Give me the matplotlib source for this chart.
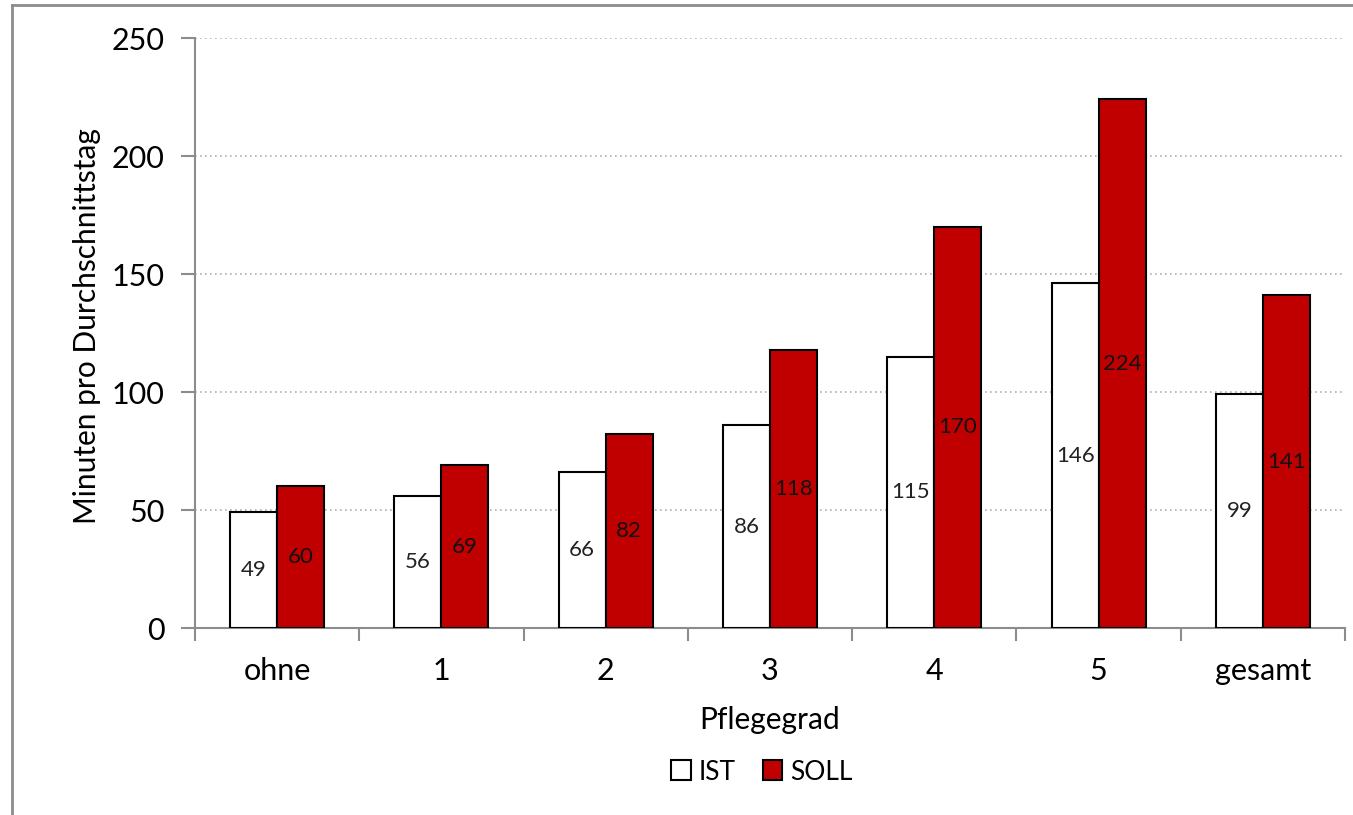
import matplotlib
matplotlib.use("Agg")
import matplotlib.pyplot as plt
import numpy as np
from matplotlib.lines import Line2D
from matplotlib.patches import Patch

categories = ["ohne", "1", "2", "3", "4", "5", "gesamt"]
ist_values = [49, 56, 66, 86, 115, 146, 99]
soll_values = [60, 69, 82, 118, 170, 224, 141]
y_ticks = [0, 50, 100, 150, 200, 250]

plt.rcParams['font.family'] = ['Lato', 'DejaVu Sans']

fig = plt.figure(figsize=(13.53, 8.15), dpi=100)
ax = fig.add_axes([195/1353, 1-628/815, 1150/1353, 590/815])

x = np.arange(len(categories))
w = 0.286
gray = "#8c8c8c"
red = "#c00000"

ax.bar(x - w/2, ist_values, w, color="white", edgecolor="black", linewidth=1.5, zorder=3, label="IST")
ax.bar(x + w/2, soll_values, w, color=red, edgecolor="black", linewidth=1.5, zorder=3, label="SOLL")

for xi, v in zip(x, ist_values):
    ax.text(xi - w/2, v/2, str(v), ha="center", va="center", fontsize=16, color="#222222", zorder=4)
for xi, v in zip(x, soll_values):
    ax.text(xi + w/2, v/2, str(v), ha="center", va="center", fontsize=16, color="#111111", zorder=4)

ax.set_xlim(-0.5, len(categories) - 0.5)
ax.set_ylim(0, 250)
ax.set_yticks(y_ticks)
ax.set_yticklabels([str(t) for t in y_ticks], fontsize=22)
ax.yaxis.grid(True, linestyle=(0, (1, 2)), color="#b0b0b0", linewidth=1.2, zorder=0)

ax.set_xticks(x)
ax.set_xticklabels(categories, fontsize=22)
ax.tick_params(axis="x", length=0, pad=21)
ax.set_xticks(np.arange(len(categories) + 1) - 0.5, minor=True)
ax.tick_params(axis="x", which="minor", length=9, width=1.5, color=gray, direction="out")
ax.tick_params(axis="y", length=10, width=1.5, color=gray, direction="out", pad=12)

for s in ["top", "right"]:
    ax.spines[s].set_visible(False)
for s in ["left", "bottom"]:
    ax.spines[s].set_color(gray)
    ax.spines[s].set_linewidth(1.5)

ax.set_ylabel("Minuten pro Durchschnittstag", fontsize=21.5)
ax.yaxis.set_label_coords(-(195 - 101) / 1150, (628 - 326) / 590)
ax.set_xlabel("Pflegegrad", fontsize=21.5)
ax.xaxis.set_label_coords(0.5, -(706 - 628) / 590)

handles = [Patch(facecolor="white", edgecolor="black", linewidth=1.5, label="IST"),
           Patch(facecolor=red, edgecolor="black", linewidth=1.5, label="SOLL")]
fig.legend(handles=handles, loc="center", bbox_to_anchor=(762/1353, 1-772/815), ncol=2,
           frameon=False, fontsize=19, handlelength=0.75, handleheight=0.8,
           handletextpad=0.3, columnspacing=1.0)

# outer border (left and top)
fig.add_artist(Line2D([12/1353, 12/1353], [0, 1-5/815], color=gray, linewidth=2, transform=fig.transFigure))
fig.add_artist(Line2D([12/1353, 1], [1-5/815, 1-5/815], color=gray, linewidth=2, transform=fig.transFigure))

fig.savefig("out.png", dpi=100)
